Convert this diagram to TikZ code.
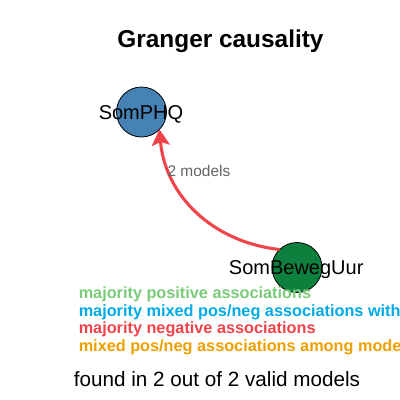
\documentclass[tikz,border=0pt]{standalone}
\usepackage{fontspec}
\setmainfont{Liberation Sans}
\usetikzlibrary{arrows.meta}
\definecolor{nodeblue}{RGB}{70,130,180}
\definecolor{nodegreen}{RGB}{14,128,62}
\definecolor{edgered}{RGB}{240,68,74}
\definecolor{legreen}{RGB}{122,204,122}
\definecolor{leblue}{RGB}{0,170,230}
\definecolor{lered}{RGB}{240,68,74}
\definecolor{leorange}{RGB}{238,160,0}
\definecolor{lblgray}{RGB}{100,100,100}
\tikzset{
  vtx/.style={circle, draw=black, line width=0.6pt, minimum size=37.5pt, inner sep=0pt, outer sep=0pt},
  lbl/.style={anchor=base, inner sep=0pt, font=\fontsize{15}{18}\selectfont},
  edge/.style={draw=edgered, line width=2.3pt, -{Stealth[length=12pt,width=13.5pt,inset=2.5pt]}},
  elbl/.style={anchor=base west, inner sep=0pt, text=lblgray, font=\fontsize{11.6}{14}\selectfont},
  leg/.style={anchor=base west, inner sep=0pt, font=\bfseries\fontsize{12.2}{14}\selectfont},
}
\begin{document}
\begin{tikzpicture}[x=0.75pt, y=-0.75pt]
\useasboundingbox[fill=white] (0,0) rectangle (400,400);
\node[anchor=base, inner sep=0pt, font=\bfseries\fontsize{18.3}{22}\selectfont] (title) at (220.5,47.7) {Granger causality};
\node[vtx, fill=nodeblue] (a) at (141.5,112) {};
\node[vtx, fill=nodegreen] (b) at (297,267.5) {};
\draw[edge] (b.134) .. controls (212,242) and (165,195) .. (a.-44);
\node[elbl] (el) at (167.3,176.7) {2 models};
\node[lbl] (la) at (141,119.3) {SomPHQ};
\node[lbl] (lb) at (296.2,274) {SomBewegUur};
\node[leg, text=legreen] (l1) at (78.5,298.3) {majority positive associations};
\node[leg, text=leblue] (l2) at (78.5,316) {majority mixed pos/neg associations with};
\node[leg, text=lered] (l3) at (78.5,333.5) {majority negative associations};
\node[leg, text=leorange] (l4) at (78.5,351) {mixed pos/neg associations among mode};
\node[anchor=base, inner sep=0pt, font=\fontsize{15.5}{18}\selectfont] (foot) at (217,386.7) {found in 2 out of 2 valid models};
\end{tikzpicture}
\end{document}
